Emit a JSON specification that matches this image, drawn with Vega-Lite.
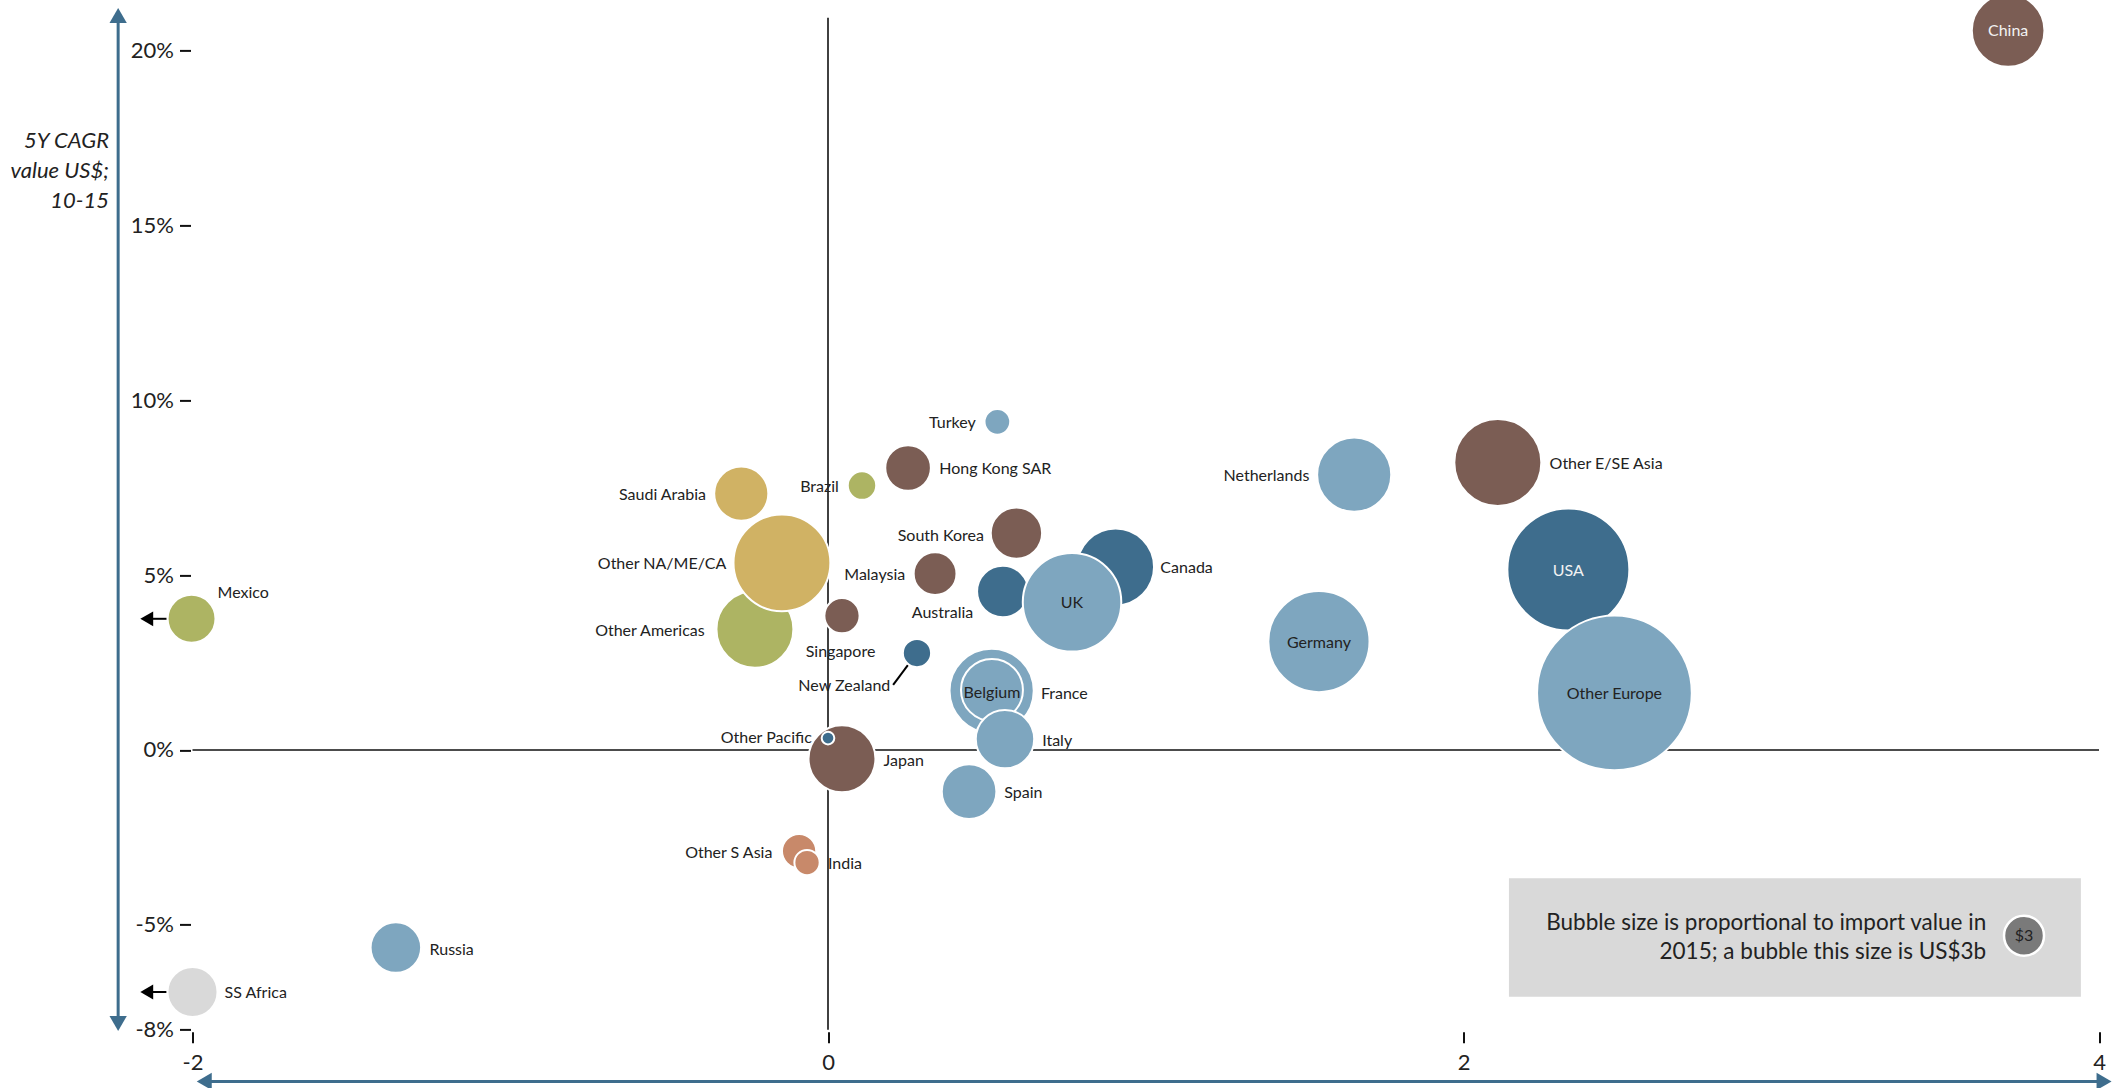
{
  "$schema": "https://vega.github.io/schema/vega-lite/v6.json",
  "width": 1906.5,
  "height": 1014.4,
  "autosize": {"type": "none"},
  "padding": {"left": 192.5, "top": 15.4, "right": 27, "bottom": 58.2},
  "background": "white",
  "config": {"view": {"stroke": null}, "font": "Lato"},
  "datasets": {
    "bubbles": [
      {"name": "China", "x": 3.714, "y": 20.57, "v": 9.9, "region": "East Asia", "pos": "inW", "lx": 3.714, "ly": 20.55},
      {"name": "Turkey", "x": 0.533, "y": 9.38, "v": 1.24, "region": "Europe", "pos": "left", "lx": 0.465, "ly": 9.34},
      {"name": "Hong Kong SAR", "x": 0.252, "y": 8.06, "v": 3.9, "region": "East Asia", "pos": "right", "lx": 0.35, "ly": 8.02},
      {"name": "Brazil", "x": 0.107, "y": 7.56, "v": 1.52, "region": "Latin America", "pos": "left", "lx": 0.034, "ly": 7.52},
      {"name": "Saudi Arabia", "x": -0.273, "y": 7.33, "v": 5.5, "region": "Middle East", "pos": "left", "lx": -0.384, "ly": 7.29},
      {"name": "Other Americas", "x": -0.23, "y": 3.45, "v": 11.1, "region": "Latin America", "pos": "left", "lx": -0.388, "ly": 3.41},
      {"name": "Other NA/ME/CA", "x": -0.145, "y": 5.35, "v": 17.6, "region": "Middle East", "pos": "left", "lx": -0.32, "ly": 5.31},
      {"name": "South Korea", "x": 0.593, "y": 6.2, "v": 4.95, "region": "East Asia", "pos": "left", "lx": 0.491, "ly": 6.12},
      {"name": "Malaysia", "x": 0.337, "y": 5.04, "v": 3.44, "region": "East Asia", "pos": "left", "lx": 0.243, "ly": 5.0},
      {"name": "Singapore", "x": 0.044, "y": 3.84, "v": 2.33, "region": "East Asia", "pos": "left", "lx": 0.149, "ly": 2.79},
      {"name": "New Zealand", "x": 0.28, "y": 2.77, "v": 1.5, "region": "NA Pacific", "pos": "left", "lx": 0.196, "ly": 1.82},
      {"name": "Canada", "x": 0.905, "y": 5.23, "v": 11.1, "region": "NA Pacific", "pos": "right", "lx": 1.046, "ly": 5.19},
      {"name": "Australia", "x": 0.55, "y": 4.53, "v": 4.95, "region": "NA Pacific", "pos": "left", "lx": 0.457, "ly": 3.91},
      {"name": "UK", "x": 0.768, "y": 4.22, "v": 18.2, "region": "Europe", "pos": "in", "lx": 0.768, "ly": 4.19},
      {"name": "Netherlands", "x": 1.656, "y": 7.87, "v": 10.3, "region": "Europe", "pos": "left", "lx": 1.515, "ly": 7.83},
      {"name": "Other E/SE Asia", "x": 2.108, "y": 8.22, "v": 14.2, "region": "East Asia", "pos": "right", "lx": 2.271, "ly": 8.18},
      {"name": "Germany", "x": 1.545, "y": 3.1, "v": 19.2, "region": "Europe", "pos": "in", "lx": 1.545, "ly": 3.06},
      {"name": "USA", "x": 2.33, "y": 5.16, "v": 27.9, "region": "NA Pacific", "pos": "inW", "lx": 2.33, "ly": 5.12},
      {"name": "Other Europe", "x": 2.475, "y": 1.63, "v": 44.9, "region": "Europe", "pos": "in", "lx": 2.475, "ly": 1.59},
      {"name": "France", "x": 0.515, "y": 1.69, "v": 13.3, "region": "Europe", "pos": "right", "lx": 0.67, "ly": 1.59},
      {"name": "Belgium", "x": 0.516, "y": 1.715, "v": 7.2, "region": "Europe", "pos": "in", "lx": 0.516, "ly": 1.63},
      {"name": "Italy", "x": 0.557, "y": 0.31, "v": 6.4, "region": "Europe", "pos": "right", "lx": 0.674, "ly": 0.27},
      {"name": "Spain", "x": 0.444, "y": -1.19, "v": 5.6, "region": "Europe", "pos": "right", "lx": 0.555, "ly": -1.24},
      {"name": "Japan", "x": 0.044, "y": -0.25, "v": 8.4, "region": "East Asia", "pos": "right", "lx": 0.175, "ly": -0.31},
      {"name": "Other Pacific", "x": 0.0, "y": 0.34, "v": 0.3, "region": "NA Pacific", "pos": "left", "lx": -0.051, "ly": 0.35},
      {"name": "Other S Asia", "x": -0.091, "y": -2.89, "v": 2.2, "region": "South Asia", "pos": "left", "lx": -0.175, "ly": -2.95},
      {"name": "India", "x": -0.066, "y": -3.22, "v": 1.2, "region": "South Asia", "pos": "right", "lx": 0.0, "ly": -3.26},
      {"name": "Mexico", "x": -2.003, "y": 3.75, "v": 4.3, "region": "Latin America", "pos": "right", "lx": -1.921, "ly": 4.5},
      {"name": "SS Africa", "x": -2.0, "y": -6.92, "v": 4.7, "region": "Africa", "pos": "right", "lx": -1.899, "ly": -6.94},
      {"name": "Russia", "x": -1.36, "y": -5.65, "v": 4.79, "region": "Europe", "pos": "right", "lx": -1.254, "ly": -5.72}
    ]
  },
  "encoding": {
    "x": {"type": "quantitative", "scale": {"domain": [-2, 4], "nice": false, "zero": false},
      "axis": {"values": [-2, 0, 2, 4], "labelExpr": "datum.value + ''", "labelFlush": false, "labelOverlap": false, "grid": false, "domain": false, "ticks": true, "tickSize": 11, "tickWidth": 2, "tickColor": "#111", "offset": 2, "labelPadding": 10, "labelFontSize": 22, "labelColor": "#222", "labelFont": "Lato", "title": null}},
    "y": {"type": "quantitative", "scale": {"domain": [-8, 21], "nice": false, "zero": false},
      "axis": {"values": [-8, -5, 0, 5, 10, 15, 20], "labelExpr": "datum.value + '%'", "labelFlush": false, "labelOverlap": false, "grid": false, "domain": false, "ticks": true, "tickSize": 11, "tickWidth": 2, "tickColor": "#111", "offset": 2, "labelPadding": 6, "labelFontSize": 22, "labelColor": "#222", "labelFont": "Lato",
        "title": ["5Y CAGR", "value US$;", "10-15"], "titleAngle": 0, "titleAlign": "right", "titleBaseline": "middle", "titleX": -82, "titleY": 125.5, "titleFont": "Lato", "titleFontStyle": "italic", "titleFontWeight": "normal", "titleFontSize": 22, "titleLineHeight": 30, "titleColor": "#222"}}
  },
  "layer": [
    {
      "data": {"values": [
        {"x": -2, "x2": 4, "y": 0, "y2": 0},
        {"x": 0, "x2": 0, "y": -8, "y2": 20.93}
      ]},
      "mark": {"type": "rule", "color": "#111", "strokeWidth": 1.6, "clip": false},
      "encoding": {
        "x": {"field": "x"},
        "x2": {"field": "x2"},
        "y": {"field": "y"},
        "y2": {"field": "y2"}
      }
    },
    {
      "data": {"values": [
        {"x": -2.234, "x2": -2.234, "y": -7.82, "y2": 21.0},
        {"x": -1.963, "x2": 4.016, "y": -9.477, "y2": -9.477}
      ]},
      "mark": {"type": "rule", "color": "#3e6d8d", "strokeWidth": 3, "clip": false},
      "encoding": {
        "x": {"field": "x"},
        "x2": {"field": "x2"},
        "y": {"field": "y"},
        "y2": {"field": "y2"}
      }
    },
    {
      "data": {"values": [{"x": -2.234, "y": 21.0}]},
      "mark": {"type": "point", "shape": "triangle-up", "filled": true, "color": "#3e6d8d", "size": 300, "opacity": 1, "clip": false},
      "encoding": {"x": {"field": "x"}, "y": {"field": "y"}}
    },
    {
      "data": {"values": [{"x": -2.234, "y": -7.82}]},
      "mark": {"type": "point", "shape": "triangle-down", "filled": true, "color": "#3e6d8d", "size": 300, "opacity": 1, "clip": false},
      "encoding": {"x": {"field": "x"}, "y": {"field": "y"}}
    },
    {
      "data": {"values": [{"x": -1.963, "y": -9.477}]},
      "mark": {"type": "point", "shape": "triangle-left", "filled": true, "color": "#3e6d8d", "size": 300, "opacity": 1, "clip": false},
      "encoding": {"x": {"field": "x"}, "y": {"field": "y"}}
    },
    {
      "data": {"values": [{"x": 4.016, "y": -9.477}]},
      "mark": {"type": "point", "shape": "triangle-right", "filled": true, "color": "#3e6d8d", "size": 300, "opacity": 1, "clip": false},
      "encoding": {"x": {"field": "x"}, "y": {"field": "y"}}
    },
    {
      "data": {"values": [
        {"x": -2.144, "x2": -2.081, "y": 3.75, "y2": 3.75},
        {"x": -2.144, "x2": -2.081, "y": -6.92, "y2": -6.92},
        {"x": 0.252, "x2": 0.205, "y": 2.43, "y2": 1.86}
      ]},
      "mark": {"type": "rule", "color": "#000", "strokeWidth": 2, "clip": false},
      "encoding": {
        "x": {"field": "x"},
        "x2": {"field": "x2"},
        "y": {"field": "y"},
        "y2": {"field": "y2"}
      }
    },
    {
      "data": {"values": [{"x": -2.144, "y": 3.75}, {"x": -2.144, "y": -6.92}]},
      "mark": {"type": "point", "shape": "triangle-left", "filled": true, "color": "#000", "size": 220, "opacity": 1, "clip": false},
      "encoding": {"x": {"field": "x"}, "y": {"field": "y"}}
    },
    {
      "data": {"values": [{"x": 2.143, "x2": 3.943, "y": -3.668, "y2": -7.053}]},
      "mark": {"type": "rect", "color": "#d9d9d9", "clip": false},
      "encoding": {
        "x": {"field": "x"},
        "x2": {"field": "x2"},
        "y": {"field": "y"},
        "y2": {"field": "y2"}
      }
    },
    {
      "data": {"values": [{"x": 3.645, "y": -4.957, "t": "Bubble size is proportional to import value in\n2015; a bubble this size is US$3b"}]},
      "mark": {"type": "text", "align": "right", "baseline": "middle", "lineBreak": "\n", "lineHeight": 28.5, "font": "Lato", "fontSize": 22.5, "color": "#222", "clip": false},
      "encoding": {"x": {"field": "x"}, "y": {"field": "y"}, "text": {"field": "t"}}
    },
    {
      "data": {"values": [{"x": 3.764, "y": -5.312, "v": 3, "t": "$3"}]},
      "layer": [
        {
          "mark": {"type": "circle", "color": "#7a7a7a", "opacity": 1, "stroke": "white", "strokeWidth": 2.5, "clip": false},
          "encoding": {
            "x": {"field": "x"},
            "y": {"field": "y"},
            "size": {"field": "v", "type": "quantitative", "scale": {"type": "linear", "domain": [0, 3], "range": [0, 1600], "zero": true}, "legend": null}
          }
        },
        {
          "mark": {"type": "text", "align": "center", "baseline": "middle", "font": "Lato", "fontSize": 16, "color": "#222", "clip": false},
          "encoding": {"x": {"field": "x"}, "y": {"field": "y"}, "text": {"field": "t"}}
        }
      ]
    },
    {
      "data": {"name": "bubbles"},
      "mark": {"type": "circle", "opacity": 1, "stroke": "white", "strokeWidth": 2, "clip": false},
      "encoding": {
        "x": {"field": "x"},
        "y": {"field": "y"},
        "size": {"field": "v", "type": "quantitative", "scale": {"type": "linear", "domain": [0, 3], "range": [0, 1600], "zero": true}, "legend": null},
        "color": {"field": "region", "type": "nominal", "scale": {"domain": ["East Asia", "Europe", "NA Pacific", "Middle East", "Latin America", "South Asia", "Africa"], "range": ["#7b5d54", "#7ea6bf", "#3e6d8d", "#d0b264", "#adb463", "#c8896a", "#d9d9d9"]}, "legend": null}
      }
    },
    {
      "data": {"name": "bubbles"},
      "transform": [{"filter": "datum.pos === 'left'"}],
      "mark": {"type": "text", "align": "right", "baseline": "middle", "font": "Lato", "fontSize": 16, "color": "#222", "clip": false},
      "encoding": {"x": {"field": "lx"}, "y": {"field": "ly"}, "text": {"field": "name"}}
    },
    {
      "data": {"name": "bubbles"},
      "transform": [{"filter": "datum.pos === 'right'"}],
      "mark": {"type": "text", "align": "left", "baseline": "middle", "font": "Lato", "fontSize": 16, "color": "#222", "clip": false},
      "encoding": {"x": {"field": "lx"}, "y": {"field": "ly"}, "text": {"field": "name"}}
    },
    {
      "data": {"name": "bubbles"},
      "transform": [{"filter": "datum.pos === 'in'"}],
      "mark": {"type": "text", "align": "center", "baseline": "middle", "font": "Lato", "fontSize": 16, "color": "#222", "clip": false},
      "encoding": {"x": {"field": "lx"}, "y": {"field": "ly"}, "text": {"field": "name"}}
    },
    {
      "data": {"name": "bubbles"},
      "transform": [{"filter": "datum.pos === 'inW'"}],
      "mark": {"type": "text", "align": "center", "baseline": "middle", "font": "Lato", "fontSize": 16, "color": "#f2f2f2", "clip": false},
      "encoding": {"x": {"field": "lx"}, "y": {"field": "ly"}, "text": {"field": "name"}}
    }
  ]
}
